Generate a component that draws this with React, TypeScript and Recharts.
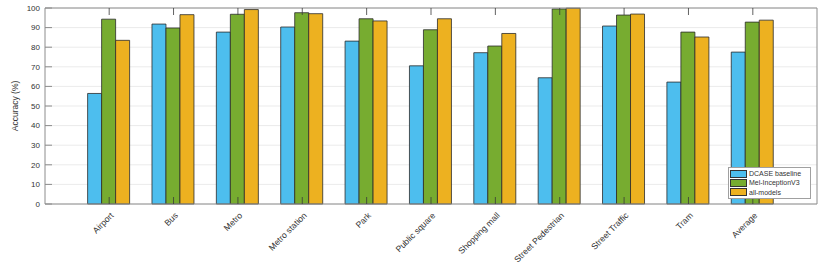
import { BarChart, Bar, XAxis, YAxis, CartesianGrid } from 'recharts'

// accuracy per acoustic scene
const scenes = [
  'Airport', 'Bus', 'Metro', 'Metro station', 'Park', 'Public square',
  'Shopping mall', 'Street Pedestrian', 'Street Traffic', 'Tram', 'Average',
]
const dcaseBaseline = [56.4, 91.8, 87.7, 90.3, 83.1, 70.5, 77.2, 64.4, 90.8, 62.2, 77.5]
const melInception = [94.3, 89.8, 96.8, 97.6, 94.5, 88.9, 80.6, 99.5, 96.4, 87.7, 92.8]
const allModels = [83.5, 96.6, 99.2, 97.1, 93.4, 94.5, 87.0, 99.9, 96.9, 85.2, 93.8]
const yTicks = [0, 10, 20, 30, 40, 50, 60, 70, 80, 90, 100]

const series = [
  { key: 'baseline', name: 'DCASE baseline', color: '#4DBEEE' },
  { key: 'mel', name: 'Mel-InceptionV3', color: '#77AC30' },
  { key: 'all', name: 'all-models', color: '#EDB120' },
]

const data = scenes.map((name, i) => ({
  name,
  baseline: dcaseBaseline[i],
  mel: melInception[i],
  all: allModels[i],
}))

const FONT = '"Liberation Sans", Arial, Helvetica, sans-serif'
const TEXT = '#333333'
const AXIS = '#8c8c8c'
const TICK_LEN = 7

const LeftTick = ({ x, y, payload }: any) => (
  <g>
    <line x1={x + 5} x2={x + 5 + TICK_LEN} y1={y} y2={y} stroke={AXIS} />
    <text x={x} y={y} dy="0.35em" textAnchor="end" fontSize={8} fill={TEXT} fontFamily={FONT}>
      {payload.value}
    </text>
  </g>
)

const RightTick = ({ x, y }: any) => (
  <line x1={x} x2={x - TICK_LEN} y1={y} y2={y} stroke={AXIS} />
)

const BottomTick = ({ x, y, payload }: any) => {
  const ax = x + 5
  const ay = y + 8
  return (
    <g>
      <line x1={x} x2={x} y1={y - 4} y2={y - 4 - TICK_LEN} stroke="#3a3a3a" strokeWidth={0.8} />
      <text
        x={ax}
        y={ay}
        transform={`rotate(-45, ${ax}, ${ay})`}
        textAnchor="end"
        fontSize={8.6}
        fill={TEXT}
        fontFamily={FONT}
      >
        {payload.value}
      </text>
    </g>
  )
}

const TopTick = ({ x, y }: any) => (
  <line x1={x} x2={x} y1={y} y2={y + TICK_LEN} stroke="#3a3a3a" strokeWidth={0.8} />
)

const YLabel = ({ viewBox }: any) => {
  const cy = viewBox.y + viewBox.height / 2
  return (
    <text
      x={18}
      y={cy}
      transform={`rotate(-90, 18, ${cy})`}
      textAnchor="middle"
      fontSize={8.5}
      fill={TEXT}
      fontFamily={FONT}
    >
      Accuracy (%)
    </text>
  )
}

const LegendBox = () => (
  <div
    style={{
      position: 'absolute',
      left: 728,
      top: 167,
      width: 76,
      background: '#fff',
      border: '1px solid #a0a0a0',
      padding: '1px 4px 1px 1px',
      fontFamily: FONT,
      fontSize: 7,
      color: TEXT,
      lineHeight: '9.3px',
    }}
  >
    {series.map((s) => (
      <div key={s.key} style={{ display: 'flex', alignItems: 'center' }}>
        <span
          style={{
            display: 'inline-block',
            width: 15,
            height: 6,
            background: s.color,
            border: '1px solid #333',
            marginRight: 2,
          }}
        />
        {s.name}
      </div>
    ))}
  </div>
)

export default function App() {
  return (
    <div style={{ position: 'relative', width: 830, height: 267, background: '#fff' }}>
      <style>{'body{margin:0}'}</style>
      <BarChart
        width={830}
        height={267}
        data={data}
        margin={{ top: 7, right: 12, bottom: 0, left: 0 }}
        barCategoryGap="16.5%"
        barGap={0}
      >
        <CartesianGrid stroke="#ebebeb" vertical={false} />
        {series.map((s) => (
          <Bar
            key={s.key}
            dataKey={s.key}
            name={s.name}
            fill={s.color}
            stroke="#2b2b2b"
            strokeWidth={0.8}
            isAnimationActive={false}
          />
        ))}
        <XAxis
          dataKey="name"
          height={63}
          interval={0}
          padding={{ left: 32, right: 32 }}
          stroke={AXIS}
          tickLine={false}
          tickSize={0}
          tickMargin={4}
          tick={<BottomTick />}
        />
        <XAxis
          xAxisId="top"
          orientation="top"
          dataKey="name"
          height={1}
          interval={0}
          padding={{ left: 32, right: 32 }}
          stroke={AXIS}
          tickLine={false}
          tickSize={0}
          tickMargin={0}
          tick={<TopTick />}
        />
        <YAxis
          width={45}
          domain={[0, 100]}
          ticks={yTicks}
          interval={0}
          stroke={AXIS}
          tickLine={false}
          tickSize={0}
          tickMargin={5}
          tick={<LeftTick />}
          label={<YLabel />}
        />
        <YAxis
          yAxisId="right"
          orientation="right"
          width={1}
          domain={[0, 100]}
          ticks={yTicks}
          interval={0}
          stroke={AXIS}
          tickLine={false}
          tickSize={0}
          tickMargin={0}
          tick={<RightTick />}
        />
      </BarChart>
      <LegendBox />
    </div>
  )
}
